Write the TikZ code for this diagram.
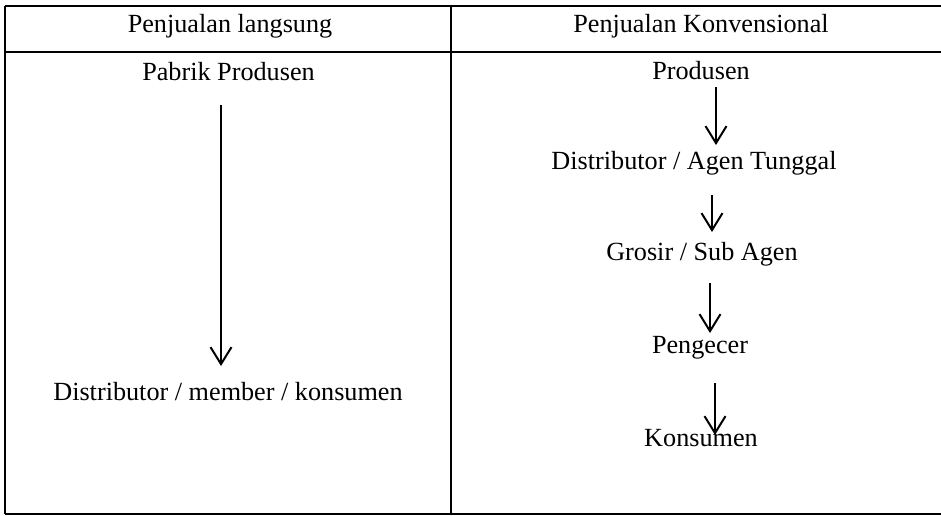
\documentclass[tikz,border=0pt]{standalone}
\usepackage{fontspec}
\setmainfont{Liberation Serif}
\usetikzlibrary{arrows.meta}
\begin{document}
\begin{tikzpicture}[x=1pt,y=-1pt,
  rule/.style={line width=2pt},
  lbl/.style={anchor=base,inner sep=0pt,font=\fontsize{26.2}{30}\selectfont},
  flow/.style={line width=2pt,-{Straight Barb[length=17pt,width=21pt,line width=2pt]}}]
\useasboundingbox (0,0) rectangle (941,515);
% table rules
\draw[rule] (4.5,5.5) -- (941,5.5);
\draw[rule] (4.5,52) -- (941,52);
\draw[rule] (4.5,513.5) -- (941,513.5);
\draw[rule] (4.5,5.5) -- (4.5,513.5);
\draw[rule] (451,5.5) -- (451,513.5);
% headers
\node[lbl] (h1) at (230,32) {Penjualan langsung};
\node[lbl] (h2) at (701,32) {Penjualan Konvensional};
% left column
\node[lbl] (pp) at (228.5,80) {Pabrik Produsen};
\node[lbl] (dmk) at (228,400) {Distributor / member / konsumen};
\coordinate (l1) at (221,105);
\coordinate (l2) at (221,366);
\draw[flow] (l1) -- (l2);
% right column
\node[lbl] (pr) at (701,79) {Produsen};
\node[lbl] (da) at (694,169) {Distributor / Agen Tunggal};
\node[lbl] (gs) at (702,260) {Grosir / Sub Agen};
\node[lbl] (pg) at (700,353) {Pengecer};
\node[lbl] (ks) at (701,446) {Konsumen};
\coordinate (a1s) at (716,87);  \coordinate (a1e) at (716,145);
\coordinate (a2s) at (712,195); \coordinate (a2e) at (712,232);
\coordinate (a3s) at (710,283); \coordinate (a3e) at (710,333);
\coordinate (a4s) at (715,383); \coordinate (a4e) at (715,435);
\draw[flow] (a1s) -- (a1e);
\draw[flow] (a2s) -- (a2e);
\draw[flow] (a3s) -- (a3e);
\draw[flow] (a4s) -- (a4e);
\end{tikzpicture}
\end{document}
